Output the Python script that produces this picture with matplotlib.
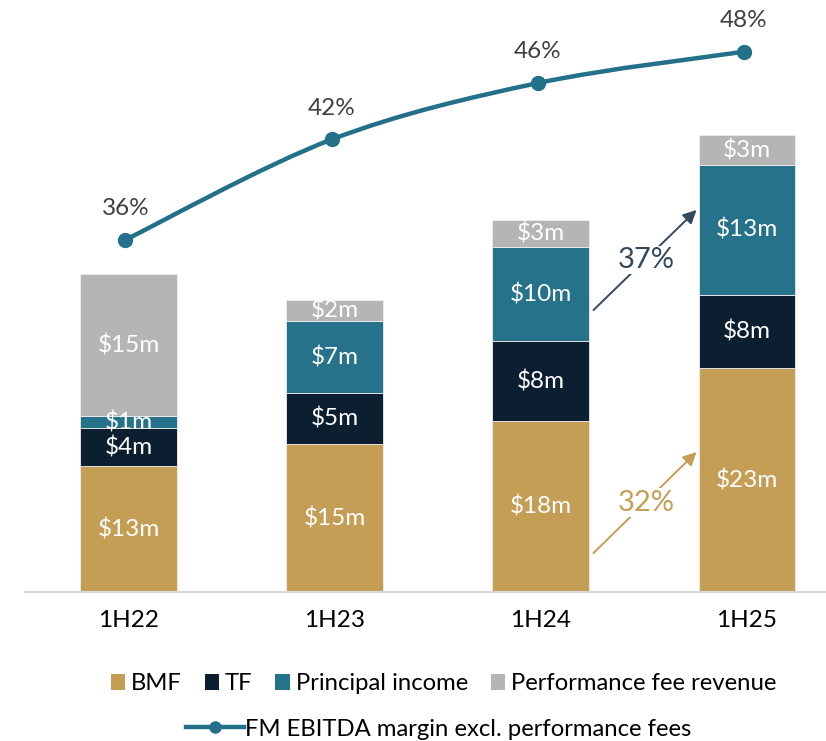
import numpy as np
import matplotlib.pyplot as plt
from matplotlib.path import Path
from matplotlib.patches import PathPatch, Patch
from matplotlib.lines import Line2D

plt.rcParams["font.family"] = ["Lato", "DejaVu Sans"]

periods = ["1H22", "1H23", "1H24", "1H25"]
bmf = [12.96, 15.2, 17.6, 23.0]
tf = [3.9, 5.25, 8.2, 7.6]
principal = [1.23, 7.4, 9.7, 13.3]
perf_fees = [14.6, 2.16, 2.8, 3.1]
margins = [36, 42.4, 46, 48]

series = [
    ("BMF", bmf, "#C59E55"),
    ("TF", tf, "#0B1F31"),
    ("Principal income", principal, "#26728A"),
    ("Performance fee revenue", perf_fees, "#B5B5B5"),
]
line_color = "#23708A"

fig = plt.figure(figsize=(8.26, 7.41), dpi=100)
ax = fig.add_axes([25 / 826, 149 / 741, 801 / 826, 592 / 741])
x = np.arange(len(periods))
w = 0.47

bottom = np.zeros(len(periods))
for name, vals, col in series:
    vals = np.array(vals)
    ax.bar(x, vals, w, bottom=bottom, color=col, edgecolor="#EEEEEE", linewidth=0.6, zorder=2)
    for xi, b, v in zip(x, bottom, vals):
        ax.text(xi, b + v / 2, f"${v:.0f}m", ha="center", va="center",
                color="white", fontsize=17.5, zorder=3)
    bottom += vals

ax.set_xlim(-0.502, 3.383)
ax.set_ylim(0, 60.9)
ax.set_xticks(x)
ax.set_xticklabels(periods, fontsize=17.5)
ax.tick_params(axis="x", length=0, pad=13)
ax.set_yticks([])
for s in ["top", "right", "left"]:
    ax.spines[s].set_visible(False)
ax.spines["bottom"].set_color("#D9D9D9")
ax.spines["bottom"].set_linewidth(1.5)

# margin line on its own scale
ax2 = ax.twinx()
ax2.set_ylim(13.53, 51.3)
ax2.set_yticks([])
for s in ax2.spines.values():
    s.set_visible(False)

line_x = x - 0.015
pts = np.column_stack([line_x, margins]).astype(float)
n = len(pts)
verts = [tuple(pts[0])]
codes = [Path.MOVETO]
for i in range(n - 1):
    p0 = pts[max(i - 1, 0)]
    p1 = pts[i]
    p2 = pts[i + 1]
    p3 = pts[min(i + 2, n - 1)]
    c1 = p1 + (p2 - p0) / 6
    c2 = p2 - (p3 - p1) / 6
    verts += [tuple(c1), tuple(c2), tuple(p2)]
    codes += [Path.CURVE4] * 3
ax2.add_patch(PathPatch(Path(verts, codes), facecolor="none", edgecolor=line_color,
                        linewidth=3.2, zorder=4))
ax2.plot(line_x, margins, "o", color=line_color, markersize=10, zorder=5)
for xi, m in zip(line_x, margins):
    ax2.annotate(f"{m:.0f}%", (xi, m), xytext=(0, 15), textcoords="offset points",
                 ha="center", va="bottom", fontsize=17.5, color="#404040")

# growth arrows between 1H24 and 1H25
def growth_arrow(y0, y1, label, color):
    x0 = 2 + w / 2 + 0.02
    x1 = 3 - w / 2 - 0.01
    ax.annotate("", xy=(x1, y1), xytext=(x0, y0),
                arrowprops=dict(arrowstyle="-|>,head_length=0.8,head_width=0.4",
                                color=color, lw=1.4, shrinkA=0, shrinkB=0), zorder=3)
    ax.text((x0 + x1) / 2 + 0.005, (y0 + y1) / 2, label, ha="center", va="center",
            fontsize=21, color=color, zorder=4,
            bbox=dict(facecolor="white", edgecolor="none", pad=1))

growth_arrow(29.0, 39.3, "37%", "#34495E")
growth_arrow(4.0, 14.4, "32%", "#C59E55")

handles = [Patch(facecolor=c, edgecolor="none") for _, _, c in series]
fig.legend(handles, [s[0] for s in series], loc="center", ncol=4,
           bbox_to_anchor=(0.537, 0.077), frameon=False, fontsize=17.2,
           handlelength=0.6, handleheight=0.6, handletextpad=0.25,
           columnspacing=0.95)
line_handle = Line2D([], [], color=line_color, linewidth=3.2, marker="o", markersize=8)
fig.legend([line_handle], ["FM EBITDA margin excl. performance fees"], loc="center",
           bbox_to_anchor=(0.531, 0.016), frameon=False, fontsize=17.2,
           handlelength=2.4, handletextpad=0.05)

fig.savefig("out.png", dpi=100)
